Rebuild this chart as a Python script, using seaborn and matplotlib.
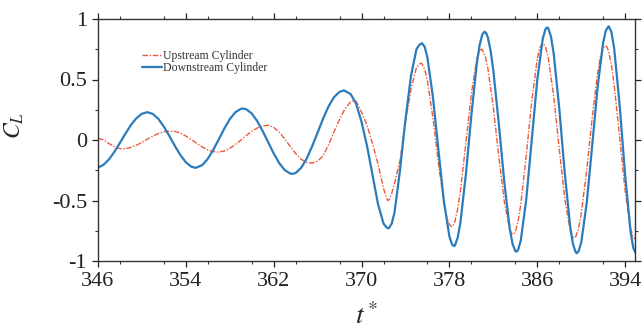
import numpy as np
import pandas as pd
import matplotlib
matplotlib.use("Agg")
import matplotlib.pyplot as plt
import seaborn as sns
from matplotlib.ticker import MultipleLocator

# ---- data ----
up_t = [346.0, 346.5, 347.0, 347.5, 348.0, 348.15, 348.5, 349.0, 349.5, 350.0, 350.5, 351.0, 351.5,
        352.0, 352.5, 353.0, 353.5, 354.0, 354.5, 355.0, 355.5, 356.0, 356.5, 357.0, 357.5, 358.0,
        358.5, 359.0, 359.5, 360.0, 360.5, 361.0, 361.5, 362.0, 362.5, 363.0, 363.5, 364.0, 364.5,
        365.0, 365.5, 366.0, 366.5, 367.0, 367.5, 368.0, 368.5, 369.0, 369.25, 369.5, 370.0, 370.5,
        371.0, 371.5, 372.0, 372.25, 372.4, 372.5, 372.75, 373.0, 373.5, 374.0, 374.5, 375.0, 375.25,
        375.4, 375.5, 375.75, 376.0, 376.5, 377.0, 377.5, 377.75, 378.0, 378.2, 378.35, 378.5, 378.75,
        379.0, 379.5, 380.0, 380.5, 380.75, 380.9, 381.0, 381.25, 381.5, 382.0, 382.5, 383.0, 383.5,
        383.65, 383.8, 384.0, 384.25, 384.5, 385.0, 385.5, 386.0, 386.25, 386.5, 386.75, 387.0, 387.5,
        388.0, 388.5, 389.0, 389.2, 389.35, 389.5, 389.75, 390.0, 390.5, 391.0, 391.5, 391.75, 392.0,
        392.2, 392.35, 392.5, 392.75, 393.0, 393.5, 394.0, 394.5, 394.75, 395.0]
up_cl = [0.015, 0.000, -0.030, -0.055, -0.071, -0.074, -0.072, -0.061, -0.043, -0.020, 0.007, 0.032, 0.053,
         0.068, 0.074, 0.071, 0.057, 0.033, 0.003, -0.028, -0.058, -0.082, -0.096, -0.100, -0.091, -0.069,
         -0.038, -0.002, 0.037, 0.071, 0.099, 0.116, 0.122, 0.104, 0.065, 0.009, -0.053, -0.112, -0.159,
         -0.185, -0.190, -0.175, -0.130, -0.040, 0.070, 0.170, 0.260, 0.315, 0.325, 0.320, 0.230, 0.120,
         -0.030, -0.200, -0.400, -0.475, -0.500, -0.495, -0.440, -0.360, -0.170, 0.150, 0.420, 0.600, 0.625,
         0.635, 0.630, 0.584, 0.488, 0.183, -0.192, -0.519, -0.633, -0.700, -0.717, -0.706, -0.673, -0.572,
         -0.421, -0.026, 0.383, 0.672, 0.739, 0.750, 0.745, 0.696, 0.594, 0.268, -0.139, -0.511, -0.740,
         -0.770, -0.780, -0.759, -0.674, -0.532, -0.127, 0.323, 0.670, 0.767, 0.800, 0.770, 0.681, 0.359,
         -0.071, -0.481, -0.750, -0.799, -0.810, -0.799, -0.734, -0.614, -0.252, 0.181, 0.556, 0.685, 0.761,
         0.780, 0.768, 0.732, 0.622, 0.458, 0.026, -0.420, -0.735, -0.808, -0.820]

down_t = [346.0, 346.5, 347.0, 347.5, 348.0, 348.5, 349.0, 349.5, 350.0, 350.5, 351.0, 351.5, 352.0,
          352.5, 353.0, 353.5, 354.0, 354.5, 354.9, 355.5, 356.0, 356.5, 357.0, 357.5, 358.0, 358.5,
          359.0, 359.2, 359.5, 360.0, 360.5, 361.0, 361.5, 362.0, 362.5, 363.0, 363.5, 363.7, 364.0,
          364.5, 365.0, 365.5, 366.0, 366.5, 367.0, 367.5, 368.0, 368.4, 369.0, 369.5, 370.0, 370.5,
          371.0, 371.5, 372.0, 372.25, 372.4, 372.5, 372.75, 373.0, 373.5, 374.0, 374.5, 375.0, 375.25,
          375.5, 375.75, 376.0, 376.5, 377.0, 377.5, 378.0, 378.25, 378.4, 378.5, 378.75, 379.0, 379.5,
          380.0, 380.5, 380.75, 381.0, 381.2, 381.35, 381.5, 381.75, 382.0, 382.5, 383.0, 383.5, 383.75,
          384.0, 384.1, 384.25, 384.5, 385.0, 385.5, 386.0, 386.5, 386.75, 386.9, 387.0, 387.25, 387.5,
          388.0, 388.5, 389.0, 389.25, 389.5, 389.6, 389.75, 390.0, 390.5, 391.0, 391.5, 392.0, 392.25,
          392.5, 392.75, 393.0, 393.5, 394.0, 394.5, 394.75, 395.0]
down_cl = [-0.228, -0.205, -0.160, -0.097, -0.023, 0.053, 0.124, 0.181, 0.217, 0.230, 0.215, 0.174, 0.110,
           0.033, -0.049, -0.124, -0.184, -0.221, -0.230, -0.207, -0.155, -0.081, 0.006, 0.094, 0.172, 0.229,
           0.257, 0.260, 0.254, 0.219, 0.156, 0.073, -0.019, -0.111, -0.191, -0.248, -0.277, -0.280, -0.273,
           -0.230, -0.154, -0.052, 0.062, 0.177, 0.279, 0.355, 0.398, 0.410, 0.380, 0.300, 0.150, -0.050,
           -0.290, -0.530, -0.690, -0.720, -0.730, -0.727, -0.690, -0.600, -0.250, 0.170, 0.530, 0.750, 0.785,
           0.800, 0.770, 0.680, 0.354, -0.083, -0.508, -0.798, -0.865, -0.876, -0.871, -0.809, -0.683, -0.284,
           0.207, 0.636, 0.784, 0.873, 0.895, 0.883, 0.848, 0.739, 0.574, 0.133, -0.350, -0.738, -0.858,
           -0.918, -0.923, -0.910, -0.831, -0.489, 0.004, 0.496, 0.838, 0.917, 0.930, 0.924, 0.854, 0.712,
           0.265, -0.270, -0.717, -0.859, -0.928, -0.935, -0.922, -0.849, -0.523, -0.048, 0.441, 0.806, 0.906,
           0.940, 0.894, 0.760, 0.290, -0.290, -0.760, -0.894, -0.940]

series_names = ["Upstream Cylinder", "Downstream Cylinder"]
x_ticks = [346, 354, 362, 370, 378, 386, 394]
y_ticks = [-1, -0.5, 0, 0.5, 1]
y_tick_labels = ["-1", "-0.5", "0", "0.5", "1"]

# ---- style ----
sns.set_style("ticks")
plt.rcParams["font.family"] = ["Liberation Serif", "DejaVu Serif"]
plt.rcParams["mathtext.fontset"] = "stix"
plt.rcParams["axes.unicode_minus"] = False

df = pd.concat([
    pd.DataFrame({"t": up_t, "CL": up_cl, "series": series_names[0]}),
    pd.DataFrame({"t": down_t, "CL": down_cl, "series": series_names[1]}),
], ignore_index=True)

fig = plt.figure(figsize=(6.44, 3.32), dpi=100)
ax = fig.add_axes([98 / 644, (332 - 261) / 332, 537 / 644, 242 / 332])

palette = {series_names[0]: "#ec5a3c", series_names[1]: "#2b7cbc"}
sns.lineplot(data=df, x="t", y="CL", hue="series", palette=palette, ax=ax,
             sort=False, estimator=None, legend=False)

lines = ax.get_lines()
lines[0].set_linewidth(1.0)
lines[0].set_dashes([4, 1.2, 1, 1.2])
lines[1].set_linewidth(1.6)

ax.set_xlim(346, 394.9)
ax.set_ylim(-1, 1)
ax.set_xticks(x_ticks)
ax.set_yticks(y_ticks)
ax.set_xticklabels([str(v) for v in x_ticks])
ax.set_yticklabels(y_tick_labels)
ax.xaxis.set_minor_locator(MultipleLocator(4))
ax.yaxis.set_minor_locator(MultipleLocator(0.25))
ax.tick_params(which="both", direction="out", top=True, right=True, color="#333333",
               labeltop=False, labelright=False)
ax.tick_params(which="major", length=4, width=0.9, labelsize=16, pad=4, colors="#222222")
ax.tick_params(which="minor", length=2.5, width=0.8)
for sp in ax.spines.values():
    sp.set_color("#333333")
    sp.set_linewidth(1.0)
    sp.set_visible(True)

ax.set_xlabel(r"$t^*$", fontsize=20)
ax.set_ylabel(r"$C_L$", fontsize=17)
ax.xaxis.set_label_coords(0.5, -0.175)
ax.yaxis.set_label_coords(-0.135, 0.56)

leg = ax.legend(lines, series_names, loc="upper left", bbox_to_anchor=(0.082, 0.87),
                frameon=False, fontsize=8.5, handlelength=1.7, handletextpad=0.1,
                labelspacing=0.0, borderpad=0, borderaxespad=0)
for txt in leg.get_texts():
    txt.set_color("#333333")

fig.savefig("out.png", dpi=100)
